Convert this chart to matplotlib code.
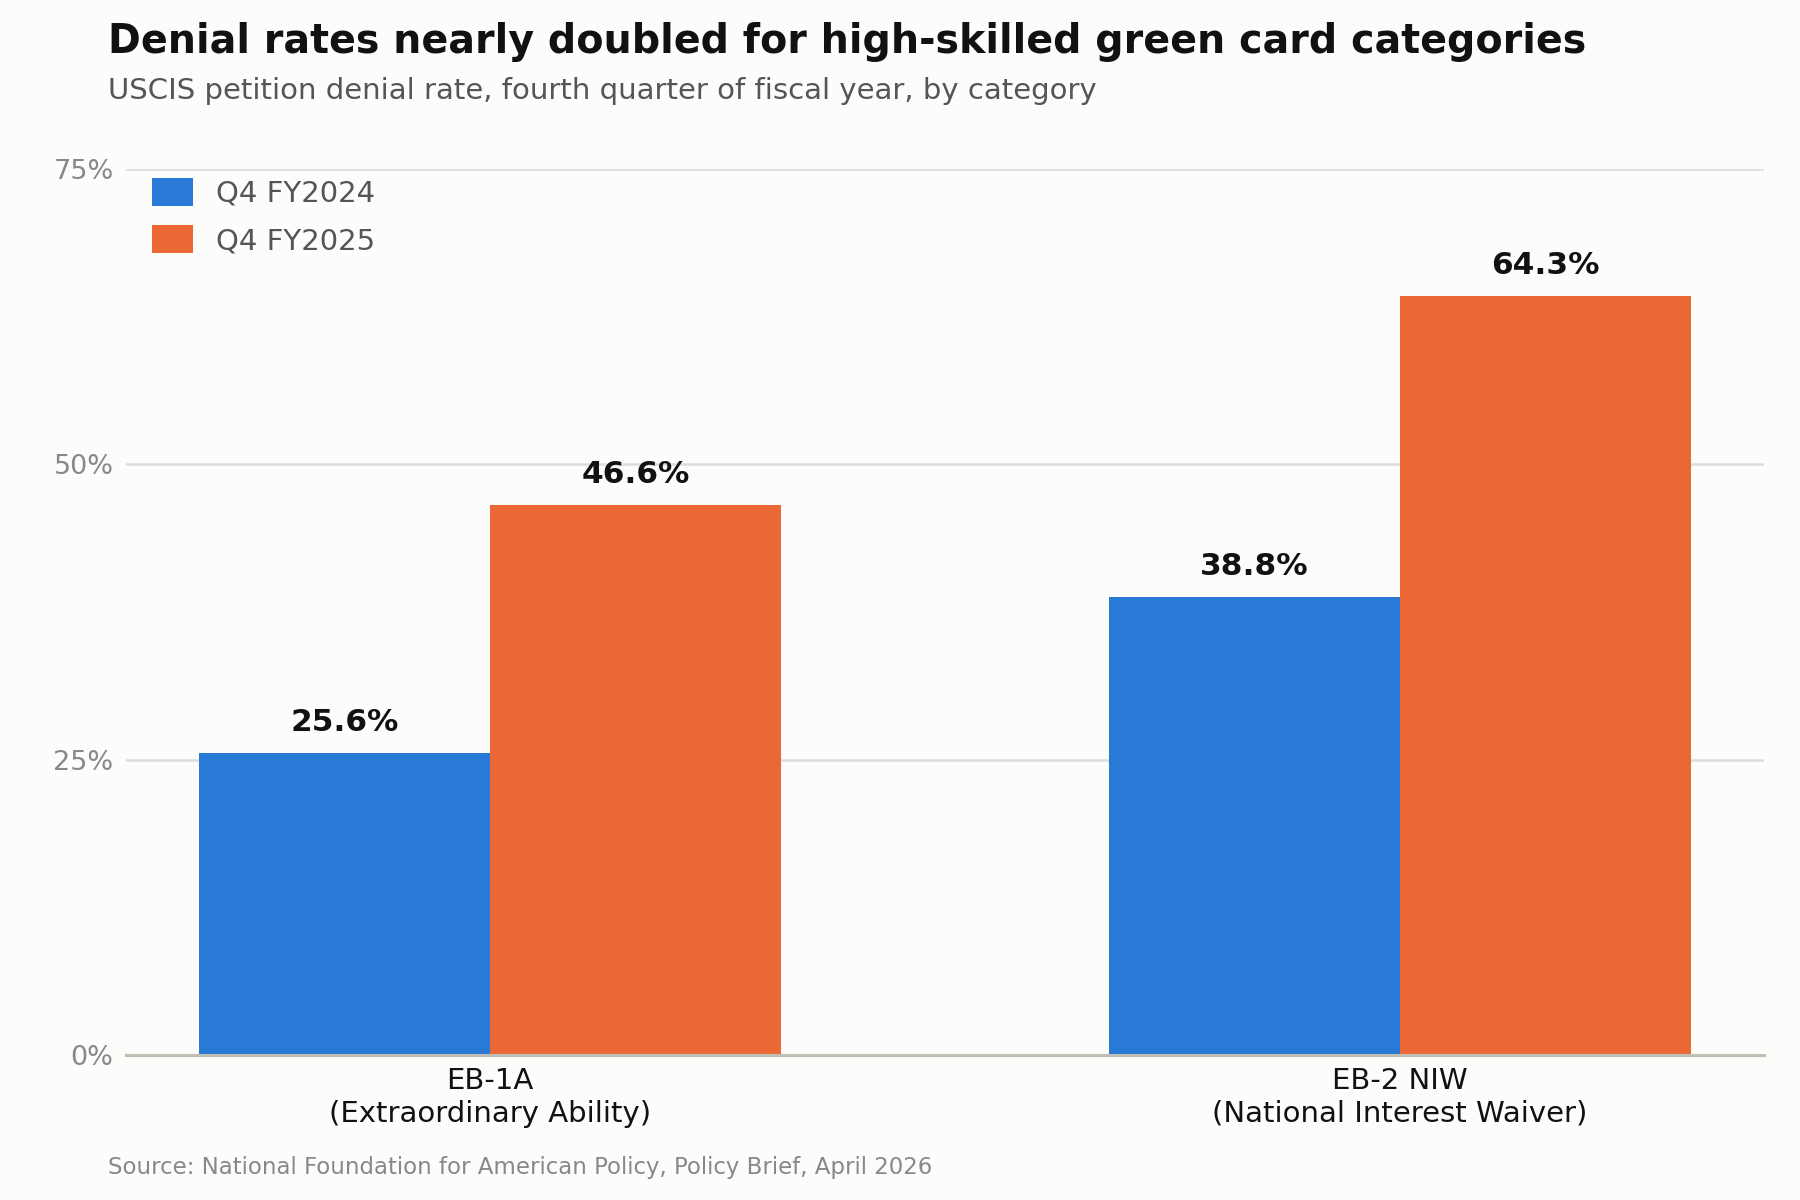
import matplotlib

matplotlib.use("Agg")
import matplotlib.pyplot as plt
import numpy as np

categories = ["EB-1A\n(Extraordinary Ability)", "EB-2 NIW\n(National Interest Waiver)"]
fy2024 = [25.6, 38.8]
fy2025 = [46.6, 64.3]
series_names = ["Q4 FY2024", "Q4 FY2025"]

BG = "#fcfcfa"
BLUE = "#2979d6"
ORANGE = "#eb6835"

fig = plt.figure(figsize=(12, 8), dpi=150, facecolor=BG)
ax = fig.add_axes([0.07, 0.121, 0.91, 0.738], facecolor=BG)

x = np.arange(len(categories))
w = 0.32
b1 = ax.bar(x - w / 2, fy2024, w, color=BLUE, label=series_names[0], zorder=2)
b2 = ax.bar(x + w / 2, fy2025, w, color=ORANGE, label=series_names[1], zorder=2)
for bars in (b1, b2):
    for r in bars:
        ax.text(r.get_x() + r.get_width() / 2, r.get_height() + 1.3, f"{r.get_height():.1f}%",
                ha="center", va="bottom", fontsize=15, fontweight="bold", color="#111111")

ax.set_ylim(0, 75)
ax.set_xlim(-0.40, 1.40)
ax.set_yticks([0, 25, 50, 75])
ax.set_yticklabels(["0%", "25%", "50%", "75%"])
ax.set_xticks(x)
ax.set_xticklabels(categories, fontsize=14, color="#111111")
ax.tick_params(axis="y", length=0, labelsize=13, labelcolor="#888888", pad=6)
ax.tick_params(axis="x", length=0, pad=6)
ax.grid(axis="y", color="#dddddd", lw=1.2, zorder=0)
for s in ("top", "right", "left"):
    ax.spines[s].set_visible(False)
ax.spines["bottom"].set_color("#c0bfb5")
ax.spines["bottom"].set_linewidth(1.5)

leg = ax.legend(loc="upper left", bbox_to_anchor=(0.0, 1.02), frameon=False, fontsize=14,
                handlelength=1.4, handleheight=1.1, labelspacing=0.6)
for t in leg.get_texts():
    t.set_color("#555555")

fig.text(0.06, 0.965, "Denial rates nearly doubled for high-skilled green card categories",
         fontsize=19, fontweight="bold", color="#111111", va="center")
fig.text(0.06, 0.924, "USCIS petition denial rate, fourth quarter of fiscal year, by category",
         fontsize=14, color="#555555", va="center")
fig.text(0.06, 0.027, "Source: National Foundation for American Policy, Policy Brief, April 2026",
         fontsize=11, color="#888888", va="center")

fig.savefig("out.png", dpi=150, facecolor=BG)
